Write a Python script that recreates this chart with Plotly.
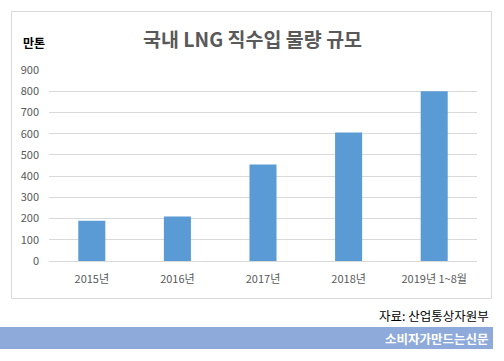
import plotly.graph_objects as go

categories = ["2015년", "2016년", "2017년", "2018년", "2019년 1~8월"]
values = [190, 210, 455, 605, 800]
y_ticks = [0, 100, 200, 300, 400, 500, 600, 700, 800, 900]

W, H = 504, 361
L, R, T, B = 49, 27, 70, 100
pw, ph = W - L - R, H - T - B

def px(x):
    return (x - L) / pw

def py(y):
    return (H - B - y) / ph

KFONT = "Noto Sans CJK KR"

fig = go.Figure(go.Bar(
    x=categories, y=values, marker=dict(color="#5b9bd5", line=dict(width=0)),
    hoverinfo="x+y",
))

fig.update_layout(
    width=W, height=H,
    margin=dict(l=L, r=R, t=T, b=B),
    paper_bgcolor="white", plot_bgcolor="white",
    bargap=0.684,
    showlegend=False,
    font=dict(family=KFONT, color="#595959", size=11),
    xaxis=dict(showgrid=False, showline=False, ticks="", tickfont=dict(size=11, color="#595959"),
               ticklabelstandoff=10),
    yaxis=dict(range=[0, 900], tickvals=y_ticks, showgrid=True, gridcolor="#d9d9d9", gridwidth=1,
               zeroline=True, zerolinecolor="#d9d9d9", zerolinewidth=1, showline=False,
               tickfont=dict(size=11, color="#595959"), ticklabelstandoff=9),
    shapes=[
        dict(type="rect", xref="paper", yref="paper", x0=px(11.5), x1=px(491.5), y0=py(11.5), y1=py(298.5),
             line=dict(color="#d9d9d9", width=1), fillcolor="rgba(0,0,0,0)", layer="below"),
        dict(type="rect", xref="paper", yref="paper", x0=px(0), x1=px(493), y0=py(327), y1=py(349),
             line=dict(width=0), fillcolor="#8eaadb", layer="below"),
    ],
    annotations=[
        dict(text="<b>국내 LNG 직수입 물량 규모</b>", xref="paper", yref="paper", x=px(252), y=py(38),
             xanchor="center", yanchor="middle", showarrow=False,
             font=dict(family=KFONT, size=19.5, color="#595959")),
        dict(text="<b>만톤</b>", xref="paper", yref="paper", x=px(21), y=py(42),
             xanchor="left", yanchor="middle", showarrow=False,
             font=dict(family=KFONT, size=12, color="#000000")),
        dict(text="자료: 산업통상자원부", xref="paper", yref="paper", x=px(491), y=py(315),
             xanchor="right", yanchor="middle", showarrow=False,
             font=dict(family=KFONT, size=12.5, color="#000000")),
        dict(text="<b>소비자가만드는신문</b>", xref="paper", yref="paper", x=px(491), y=py(338),
             xanchor="right", yanchor="middle", showarrow=False,
             font=dict(family=KFONT, size=12.5, color="#ffffff")),
    ],
)

fig.write_html("out.html", config={"displayModeBar": False},
               post_script="document.body.style.margin='0';document.body.style.padding='0';")
